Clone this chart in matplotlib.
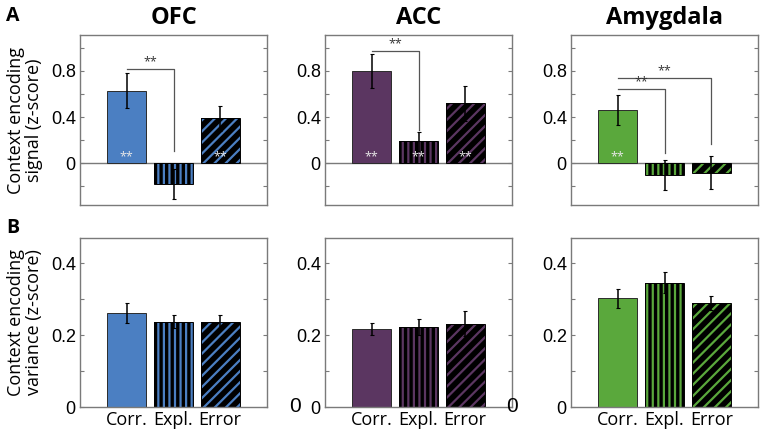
'''
Context encoding signal and variance per region
'''

import numpy as np
import matplotlib
matplotlib.use('Agg')
import matplotlib.pyplot as plt

plt.rcParams['font.family'] = ['Open Sans', 'DejaVu Sans']
plt.rcParams['hatch.linewidth'] = 1.6

# ═══ Data ═════════════════════════════════════════════════════════════════

regions = ['OFC', 'ACC', 'Amygdala']
conditions = ['Corr.', 'Expl.', 'Error']
colors = ['#4b7fc2', '#5b3661', '#5aa83c']

# Row A: context encoding signal (z-score)
signal_mean = [[0.63, -0.18, 0.39],
               [0.80, 0.19, 0.52],
               [0.46, -0.10, -0.08]]
signal_err = [[0.15, 0.13, 0.11],
              [0.15, 0.08, 0.15],
              [0.13, 0.13, 0.14]]
# white stars inside the bars
signal_inner_sig = [[True, False, True],
                    [True, True, True],
                    [True, False, False]]
# brackets: (from, to, height, bottom of drop)
brackets = [[(0, 1, 0.82, 0.11)],
            [(0, 1, 0.97, 0.29)],
            [(0, 1, 0.64, 0.09), (0, 2, 0.74, 0.17)]]

# Row B: context encoding variance (z-score)
var_mean = [[0.261, 0.237, 0.237],
            [0.216, 0.222, 0.232],
            [0.302, 0.346, 0.289]]
var_err = [[0.027, 0.018, 0.018],
           [0.017, 0.023, 0.035],
           [0.026, 0.030, 0.019]]

# ═══ Figure ═══════════════════════════════════════════════════════════════

W, H = 765, 438
fig = plt.figure(figsize=(W/100, H/100), dpi=100)

lefts = [80, 325, 571]
width = 187
rows = [(35, 205), (238, 407)]

def px_axes(x0, y0, y1):
    return fig.add_axes([x0/W, 1 - y1/H, width/W, (y1 - y0)/H])

frame_col = '#7a7a7a'
x = np.arange(1, 4)
bw = 0.83
hatches = [None, '|||', '///']

def draw_bars(ax, means, errs, col):
    for i in range(3):
        if hatches[i] is None:
            ax.bar(x[i], means[i], bw, color=col, edgecolor='#2b2b2b', linewidth=0.7, zorder=2)
        else:
            ax.bar(x[i], means[i], bw, color='black', edgecolor=col, linewidth=0,
                   hatch=hatches[i], zorder=2)
            ax.bar(x[i], means[i], bw, fill=False, edgecolor='black', linewidth=0.7, zorder=2)
    ax.errorbar(x, means, yerr=errs, fmt='none', ecolor='black', elinewidth=1.1,
                capsize=1.5, capthick=0.8, zorder=3)

def style(ax):
    for s in ax.spines.values():
        s.set_color(frame_col)
        s.set_linewidth(1.0)
    ax.tick_params(direction='in', length=3, color=frame_col, right=True,
                   labelsize=13, pad=3)
    ax.set_xlim(0, 4)

for k in range(3):
    # ─── Row A
    ax = px_axes(lefts[k], *rows[0])
    draw_bars(ax, signal_mean[k], signal_err[k], colors[k])
    ax.axhline(0, color=frame_col, linewidth=1.0, zorder=1)
    for i in range(3):
        if signal_inner_sig[k][i]:
            ax.text(x[i], 0.06, '**', color='#e8e8e8', ha='center', va='center',
                    fontsize=9, zorder=4)
    for a, b, h, low in brackets[k]:
        ax.plot([x[a], x[b], x[b]], [h, h, low], color='#555555', linewidth=0.9, zorder=1)
        ax.text((x[a] + x[b])/2, h + 0.005, '**', ha='center', va='bottom',
                fontsize=9, color='#333333')
    ax.set_ylim(-0.36, 1.11)
    ticks = np.arange(-0.2, 1.01, 0.2)
    ax.set_yticks(ticks)
    ax.set_yticklabels(['', '0', '', '0.4', '', '0.8', ''], family='Liberation Sans')
    ax.set_xticks([])
    style(ax)
    ax.set_title(regions[k], fontsize=17, fontweight='bold', pad=8)

    # ─── Row B
    ax = px_axes(lefts[k], *rows[1])
    draw_bars(ax, var_mean[k], var_err[k], colors[k])
    ax.set_ylim(0, 0.47)
    ax.set_yticks(np.arange(0, 0.41, 0.1))
    ax.set_yticklabels(['0', '', '0.2', '', '0.4'], family='Liberation Sans')
    ax.set_xticks(x)
    ax.set_xticklabels(conditions, fontsize=12.5)
    style(ax)
    ax.tick_params(axis='x', length=0, pad=3)

# ─── Labels
fig.text(25/W, 1 - 120/H, 'Context encoding\nsignal (z-score)', rotation=90,
         ha='center', va='center', fontsize=13, linespacing=1.0)
fig.text(25/W, 1 - 322/H, 'Context encoding\nvariance (z-score)', rotation=90,
         ha='center', va='center', fontsize=13, linespacing=1.0)
fig.text(13/W, 1 - 16/H, 'A', fontsize=14, fontweight='bold', ha='center', va='center')
fig.text(13/W, 1 - 228/H, 'B', fontsize=14, fontweight='bold', ha='center', va='center')

# stray zeros as in the original figure
fig.text(295/W, 1 - 406/H, '0', fontsize=15, ha='center', va='center', family='Liberation Sans')
fig.text(512/W, 1 - 407/H, '0', fontsize=15, ha='center', va='center', family='Liberation Sans')

fig.savefig('out.png', dpi=100)
